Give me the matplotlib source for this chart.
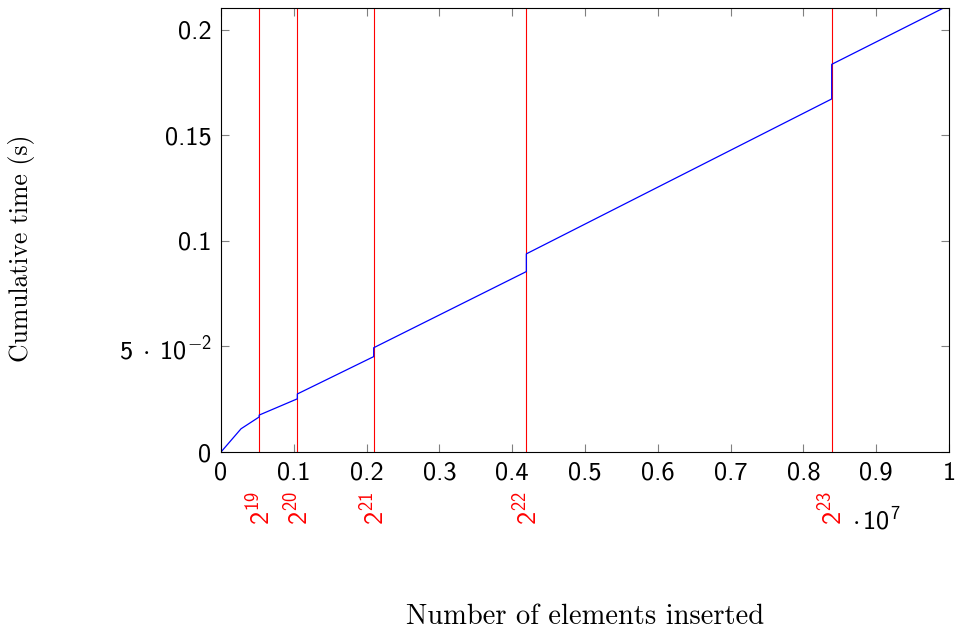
# cumulative insertion time with reallocation steps at powers of two
import matplotlib
matplotlib.use('Agg')
import matplotlib.pyplot as plt
import matplotlib.transforms as mtransforms
from matplotlib.ticker import FuncFormatter

plt.rcParams['font.family'] = 'cmr10'
plt.rcParams['mathtext.fontset'] = 'custom'
plt.rcParams['mathtext.rm'] = 'cmss10'
plt.rcParams['mathtext.it'] = 'cmss10'
plt.rcParams['mathtext.sf'] = 'cmss10'
plt.rcParams['mathtext.fallback'] = 'cm'
plt.rcParams['axes.formatter.use_mathtext'] = True

# data
elements = [0, 275000, 2**19, 2**19, 2**20, 2**20, 2**21, 2**21,
            2**22, 2**22, 2**23, 2**23, 10000000]
cum_time = [0, 0.0110, 0.0166, 0.0175, 0.0252, 0.0275, 0.0452, 0.0494,
            0.0855, 0.0939, 0.1673, 0.1837, 0.2117]

powers = [19, 20, 21, 22, 23]

x_ticks = [i * 1000000 for i in range(11)]
y_ticks = [0, 0.05, 0.1, 0.15, 0.2]
y_tick_labels = ['0', r'$5\;\cdot\;10^{-2}$', '0.1', '0.15', '0.2']

fig = plt.figure(figsize=(9.57, 6.3), dpi=100)
ax = fig.add_axes([221/957, 1 - 452/630, 728/957, 444/630])

# red lines at powers of two
for p in powers:
    ax.axvline(2**p, color='red', lw=0.8, zorder=1)

ax.plot(elements, cum_time, color='blue', lw=0.9, zorder=2)

ax.set_xlim(0, 10000000)
ax.set_ylim(0, 0.2104)

ax.set_xticks(x_ticks)
ax.xaxis.set_major_formatter(FuncFormatter(lambda v, pos: ('%g' % round(v / 1e7, 2))))
ax.set_yticks(y_ticks)
ax.set_yticklabels(y_tick_labels)

ax.tick_params(direction='in', length=6, width=0.8, color='#808080',
               top=True, right=True, labelsize=19, pad=7)
for lab in ax.get_xticklabels() + ax.get_yticklabels():
    lab.set_family('cmss10')
for sp in ax.spines.values():
    sp.set_linewidth(0.8)

# power-of-two labels below the axis
trans = mtransforms.blended_transform_factory(ax.transData, fig.transFigure)
for p in powers:
    ax.text(2**p, 1 - 491/630, r'$2^{%d}$' % p, transform=trans, rotation=90,
            ha='center', va='top', color='red', fontsize=19)

# scale label
fig.text(852/957, 1 - 520/630, r'$\cdot\,10^{7}$', fontsize=19, ha='left', va='center')

fig.text(22/957, 1 - 248/630, 'Cumulative time (s)', rotation=90,
         ha='center', va='center', fontsize=18.5)
fig.text(585/957, 1 - 617/630, 'Number of elements inserted',
         ha='center', va='center', fontsize=20.5)

plt.savefig('out.png', dpi=100)
